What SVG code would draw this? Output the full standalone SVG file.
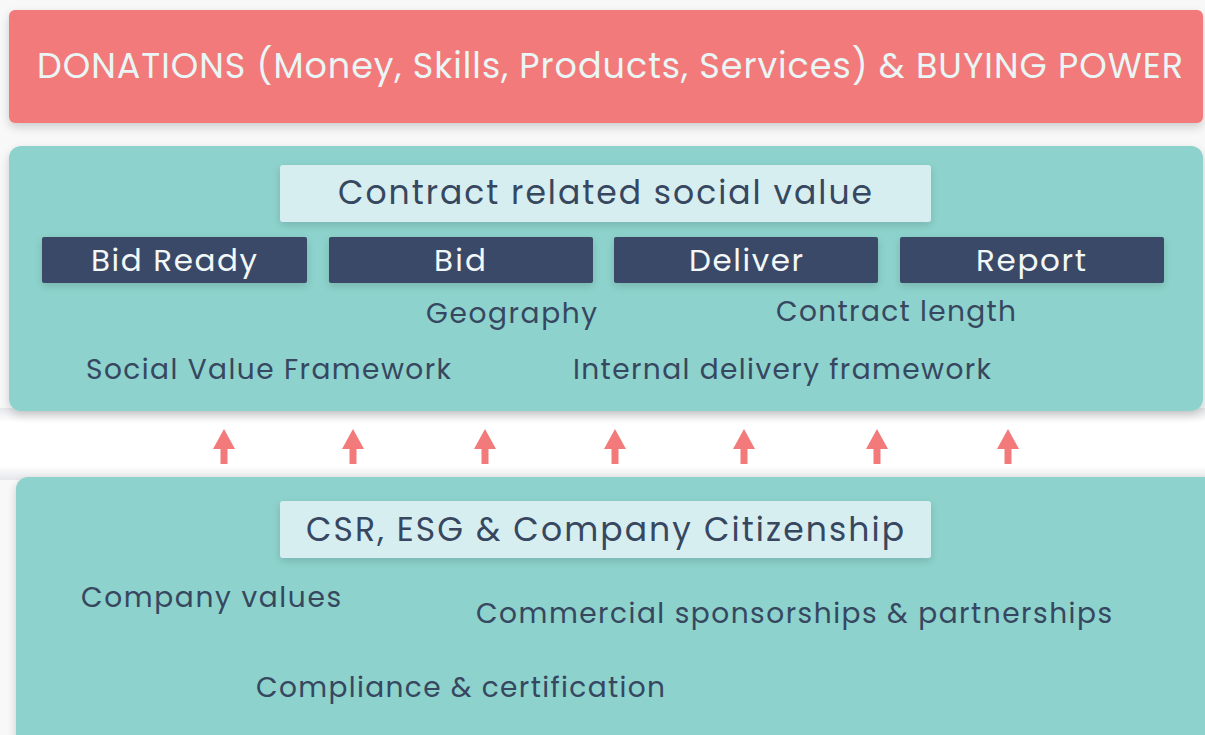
<svg xmlns="http://www.w3.org/2000/svg" width="1205" height="735" viewBox="0 0 1205 735">
  <defs>
    <filter id="shadow" x="-5%" y="-20%" width="110%" height="150%">
      <feGaussianBlur in="SourceAlpha" stdDeviation="5"/>
      <feOffset dy="4"/>
      <feComponentTransfer><feFuncA type="linear" slope="0.18"/></feComponentTransfer>
      <feMerge><feMergeNode/><feMergeNode in="SourceGraphic"/></feMerge>
    </filter>
    <filter id="softshadow" x="-10%" y="-30%" width="120%" height="170%">
      <feGaussianBlur in="SourceAlpha" stdDeviation="4"/>
      <feOffset dy="3"/>
      <feComponentTransfer><feFuncA type="linear" slope="0.15"/></feComponentTransfer>
      <feMerge><feMergeNode/><feMergeNode in="SourceGraphic"/></feMerge>
    </filter>
    <linearGradient id="band" x1="0" y1="0" x2="0" y2="1">
      <stop offset="0" stop-color="#E6E7EA"/>
      <stop offset="0.2" stop-color="#FFFFFF"/>
      <stop offset="0.8" stop-color="#FFFFFF"/>
      <stop offset="1" stop-color="#E6E7EA"/>
    </linearGradient>
    <path id="up-arrow" d="M0,0 L11,20 L3.5,20 L3.5,35 L-3.5,35 L-3.5,20 L-11,20 Z"/>
  </defs>
  <style>
    .txt { font-family: "Poppins", "Open Sans", "Lato", sans-serif; }
    .banner { fill: #F27A7A; }
    .panel { fill: #8DD2CC; }
    .title-box { fill: #D7EEF1; }
    .phase-box { fill: #3A4A68; }
    .banner-text { fill: #EAF6F5; font-size: 35px; }
    .title-text { fill: #36475F; font-size: 33px; text-anchor: middle; }
    .phase-text { fill: #F2F7F7; font-size: 31px; text-anchor: middle; }
    .item-text { fill: #36475F; font-size: 28px; }
    .arrow { fill: #F27A7A; }
  </style>

  <rect x="0" y="0" width="1205" height="735" fill="#F8F8F9"/>
  <rect x="0" y="408" width="1205" height="72" fill="url(#band)"/>

  <!-- Top banner -->
  <g id="donations">
    <rect class="banner" x="9" y="10" width="1194" height="113" rx="6" filter="url(#shadow)"/>
    <text class="txt banner-text" x="37" y="78" textLength="1146" lengthAdjust="spacing">DONATIONS (Money, Skills, Products, Services) &amp; BUYING POWER</text>
  </g>

  <!-- Contract related social value panel -->
  <g id="contract-panel">
    <rect class="panel" x="9" y="146" width="1194" height="265" rx="12" filter="url(#shadow)"/>
    <rect class="title-box" x="280" y="165" width="651" height="57" rx="3" filter="url(#softshadow)"/>
    <text class="txt title-text" x="605" y="204" textLength="534" lengthAdjust="spacing">Contract related social value</text>
  </g>

  <g id="bid-ready">
    <rect class="phase-box" x="42" y="237" width="265" height="46" rx="2" filter="url(#softshadow)"/>
    <text class="txt phase-text" x="174" y="271" textLength="166" lengthAdjust="spacing">Bid Ready</text>
  </g>
  <g id="bid">
    <rect class="phase-box" x="329" y="237" width="264" height="46" rx="2" filter="url(#softshadow)"/>
    <text class="txt phase-text" x="460" y="271" textLength="52" lengthAdjust="spacing">Bid</text>
  </g>
  <g id="deliver">
    <rect class="phase-box" x="614" y="237" width="264" height="46" rx="2" filter="url(#softshadow)"/>
    <text class="txt phase-text" x="746" y="271" textLength="114" lengthAdjust="spacing">Deliver</text>
  </g>
  <g id="report">
    <rect class="phase-box" x="900" y="237" width="264" height="46" rx="2" filter="url(#softshadow)"/>
    <text class="txt phase-text" x="1031" y="271" textLength="110" lengthAdjust="spacing">Report</text>
  </g>

  <g id="contract-items">
    <text class="txt item-text" x="426" y="323" textLength="171" lengthAdjust="spacing">Geography</text>
    <text class="txt item-text" x="776" y="321" textLength="240" lengthAdjust="spacing">Contract length</text>
    <text class="txt item-text" x="86" y="379" textLength="365" lengthAdjust="spacing">Social Value Framework</text>
    <text class="txt item-text" x="573" y="379" textLength="418" lengthAdjust="spacing">Internal delivery framework</text>
  </g>

  <!-- Upward flow arrows -->
  <g id="connectors">
    <use class="arrow" href="#up-arrow" x="224" y="429"/>
    <use class="arrow" href="#up-arrow" x="353" y="429"/>
    <use class="arrow" href="#up-arrow" x="485" y="429"/>
    <use class="arrow" href="#up-arrow" x="615" y="429"/>
    <use class="arrow" href="#up-arrow" x="744" y="429"/>
    <use class="arrow" href="#up-arrow" x="877" y="429"/>
    <use class="arrow" href="#up-arrow" x="1008" y="429"/>
  </g>

  <!-- CSR panel -->
  <g id="csr-panel">
    <rect class="panel" x="16" y="477" width="1200" height="280" rx="12" filter="url(#shadow)"/>
    <rect class="title-box" x="280" y="501" width="651" height="57" rx="3" filter="url(#softshadow)"/>
    <text class="txt title-text" x="605" y="541" textLength="598" lengthAdjust="spacing">CSR, ESG &amp; Company Citizenship</text>
  </g>

  <g id="csr-items">
    <text class="txt item-text" x="81" y="607" textLength="260" lengthAdjust="spacing">Company values</text>
    <text class="txt item-text" x="476" y="623" textLength="636" lengthAdjust="spacing">Commercial sponsorships &amp; partnerships</text>
    <text class="txt item-text" x="256" y="697" textLength="409" lengthAdjust="spacing">Compliance &amp; certification</text>
  </g>
</svg>
